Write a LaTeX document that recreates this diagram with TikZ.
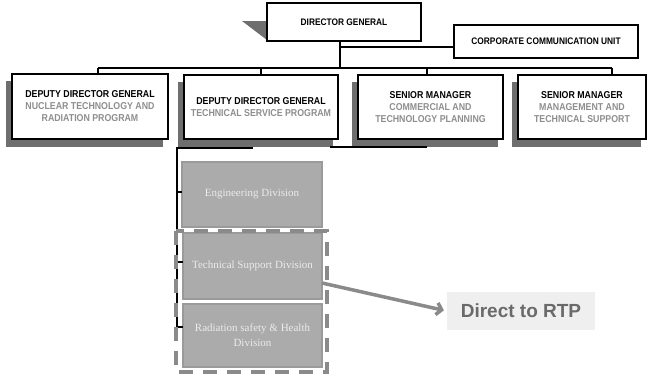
\documentclass[tikz,border=0pt]{standalone}
\usepackage{fontspec}
\setmainfont{Liberation Serif}
\newfontfamily\hd{Liberation Sans}[FakeStretch=0.88,BoldFont={Liberation Sans Bold},BoldFeatures={FakeStretch=0.88}]
\newfontfamily\rtpf{Liberation Sans}
\usetikzlibrary{shadows,arrows.meta}
\definecolor{shad}{HTML}{6E6E6E}
\definecolor{subc}{HTML}{8E8E8E}
\definecolor{divf}{HTML}{ABABAB}
\definecolor{divb}{HTML}{9A9A9A}
\definecolor{divt}{HTML}{EBEBEB}
\definecolor{dashc}{HTML}{8A8A8A}
\definecolor{rtpbg}{HTML}{EFEFEF}
\definecolor{rtpt}{HTML}{6A6A6A}
\newcommand\hdl[1]{{\hd\bfseries #1}}
\newcommand\subl[1]{{\hd\bfseries\color{subc}#1}}
\begin{document}
\begin{tikzpicture}[x=1pt,y=-1pt,
  topbox/.style={draw=black, line width=1.4pt, fill=white, inner sep=0pt, outer sep=0pt,
    align=center, font=\hd\bfseries\fontsize{9.5}{11}\selectfont},
  mgr/.style={topbox, general shadow={fill=shad, draw=shad, shadow xshift=-5.5pt, shadow yshift=-7.5pt},
    font=\hd\bfseries\fontsize{10}{12}\selectfont},
  divbox/.style={draw=divb, line width=1.5pt, fill=divf, text=divt, inner sep=0pt, outer sep=0pt,
    align=center, font=\fontsize{11}{15}\selectfont},
  conn/.style={draw=black, line width=1.3pt},
  dashbox/.style={draw=dashc, line width=4.5pt, dash pattern=on 14pt off 10pt},
  arr/.style={draw=dashc, line width=3.5pt, -{Straight Barb[length=5pt,width=12pt]}}
]
\useasboundingbox[fill=white] (0,0) rectangle (648,376);

% shadow triangle of director box
\fill[shad] (242,21) -- (267,21) -- (267,40) -- cycle;

% nodes
\node[topbox, minimum width=154pt, minimum height=38pt] (dg) at (344,22) {\hdl{DIRECTOR GENERAL}};
\node[topbox, minimum width=184pt, minimum height=33pt] (ccu) at (546,41.5) {\hdl{CORPORATE COMMUNICATION UNIT}};

% connectors top
\coordinate (busc) at (340,68);
\coordinate (cj) at (340,47);
\coordinate (busl) at (98,68);
\coordinate (bus2) at (261,68);
\coordinate (bus3) at (427,68);
\coordinate (busr) at (612,68);
\draw[conn] (busc |- dg.south) -- (busc);
\draw[conn] (cj) -- (cj -| ccu.west);
\draw[conn] (busl) -- (busr);

\node[mgr, minimum width=156pt, minimum height=65pt] (b1) at (90,106.5)
  {\hdl{DEPUTY DIRECTOR GENERAL}\\\subl{NUCLEAR TECHNOLOGY AND}\\\subl{RADIATION PROGRAM}};
\node[mgr, minimum width=154pt, minimum height=64pt] (b2) at (261,107)
  {\hdl{DEPUTY DIRECTOR GENERAL}\\\subl{TECHNICAL SERVICE PROGRAM}};
\node[mgr, minimum width=145pt, minimum height=64pt] (b3) at (430.5,107)
  {\hdl{SENIOR MANAGER}\\\subl{COMMERCIAL AND}\\\subl{TECHNOLOGY PLANNING}};
\node[mgr, minimum width=128pt, minimum height=64pt] (b4) at (582,107)
  {\hdl{SENIOR MANAGER}\\\subl{MANAGEMENT AND}\\\subl{TECHNICAL SUPPORT}};

\draw[conn] (busl) -- (busl |- b1.north);
\draw[conn] (bus2) -- (bus2 |- b2.north);
\draw[conn] (bus3) -- (bus3 |- b3.north);
\draw[conn] (busr) -- (busr |- b4.north);

% division boxes
\node[divbox, minimum width=140pt, minimum height=65pt] (eng) at (252,194.5) {Engineering Division};
\node[divbox, minimum width=139pt, minimum height=66pt] (ts) at (252.5,266) {Technical Support Division};
\node[divbox, minimum width=139pt, minimum height=63pt] (rs) at (252.5,335.5) {Radiation safety \& Health\\Division};

% technical service connector
\coordinate (tl) at (177,148);
\coordinate (tm) at (253,148);
\coordinate (tn) at (330,147);
\coordinate (tr) at (427,147);
\coordinate (te) at (177,192);
\coordinate (tt) at (177,262);
\coordinate (tb) at (177,327);
\draw[conn] (tm) -- (tl) -- (tb);
\draw[conn] (tn) -- (tr);
\draw[conn] (te) -- (te -| eng.west);
\draw[conn] (tt) -- (tt -| ts.west);
\draw[conn] (tb) -- (tb -| rs.west);

% dashed group
\draw[dashbox] (176,231) rectangle (327,372);

% direct to RTP
\node[fill=rtpbg, minimum width=148pt, minimum height=38pt, inner sep=0pt, text=rtpt,
  font=\rtpf\bfseries\fontsize{19}{22}\selectfont] (rtp) at (521,311) {Direct to RTP};
\coordinate (as) at (322,283);
\draw[arr, shorten >=3pt] (as) -- (rtp.west);
\end{tikzpicture}
\end{document}
